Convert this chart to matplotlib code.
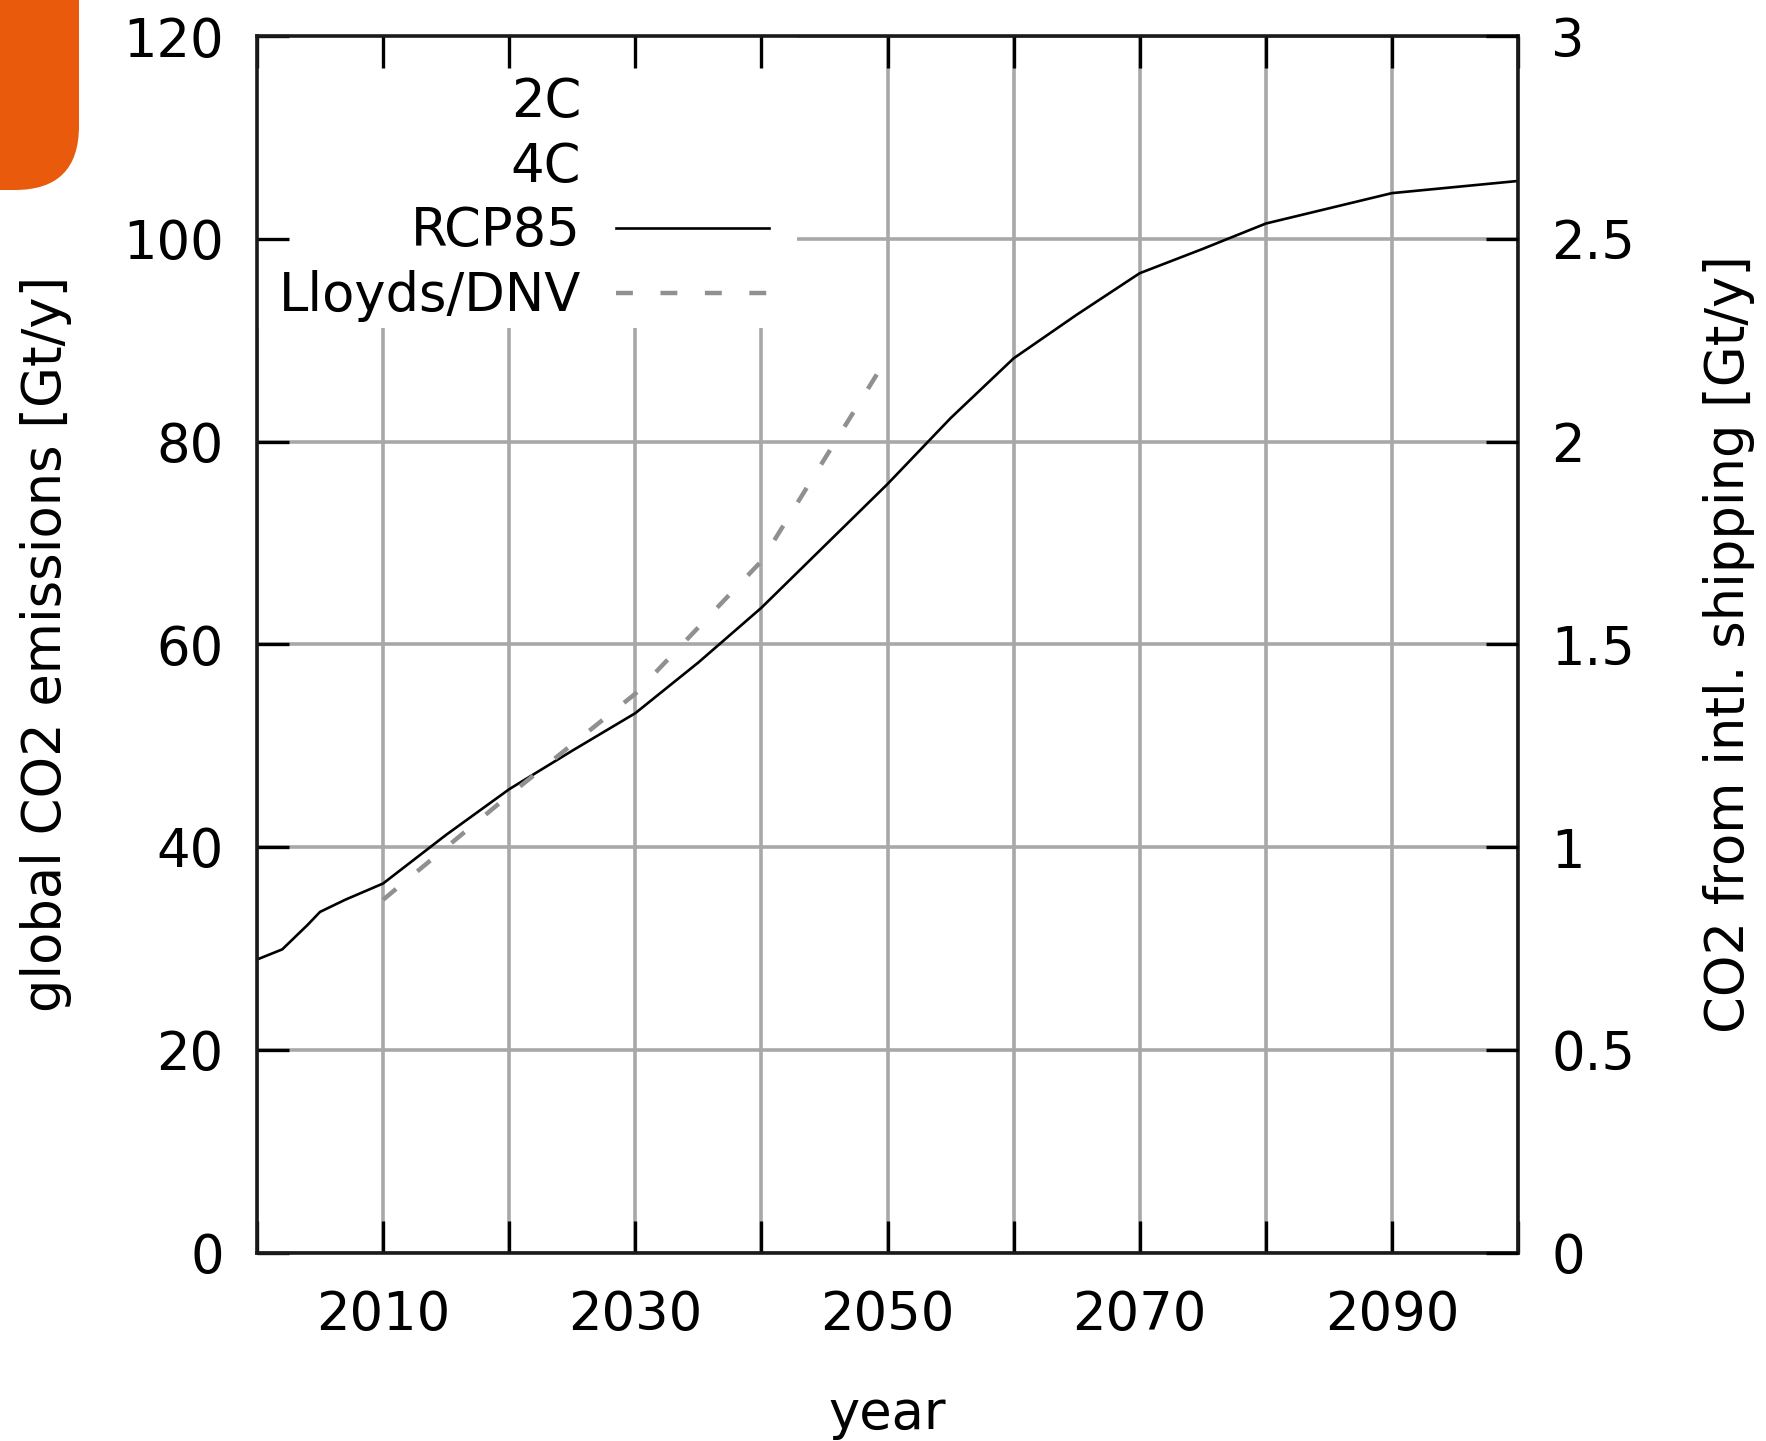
import matplotlib
matplotlib.use("Agg")
import matplotlib.pyplot as plt
from matplotlib.lines import Line2D
from matplotlib.patches import FancyBboxPatch, Rectangle
from matplotlib.ticker import MultipleLocator, FixedLocator, FormatStrFormatter

# RCP8.5 global CO2 emissions [Gt/y] (left axis)
rcp_years = [2000, 2002, 2004, 2005, 2007, 2010, 2015, 2020, 2025, 2030, 2035, 2040,
             2045, 2050, 2055, 2060, 2065, 2070, 2075, 2080, 2085, 2090, 2095, 2100]
rcp_vals = [28.9, 29.9, 32.3, 33.6, 34.8, 36.4, 41.2, 45.7, 49.5, 53.2, 58.2, 63.6,
            69.7, 75.8, 82.3, 88.2, 92.5, 96.6, 99.0, 101.5, 103.0, 104.5, 105.1, 105.7]

# Lloyds/DNV CO2 from intl. shipping [Gt/y] (right axis)
ship_years = [2010, 2020, 2030, 2040, 2050]
ship_vals = [0.870, 1.128, 1.378, 1.705, 2.208]

legend_labels = ["2C", "4C", "RCP85", "Lloyds/DNV"]
xtick_labels = [2010, 2030, 2050, 2070, 2090]

plt.rcParams['font.family'] = ['DejaVu Sans']
FS = 38

fig = plt.figure(figsize=(17.66, 14.41), dpi=100)
rect = [257 / 1766, 1 - 1252.5 / 1441, 1261 / 1766, 1216.5 / 1441]

# orange tab in the top-left corner
tab = FancyBboxPatch((-200, 1441 - 190), 279, 400,
                     boxstyle="round,pad=0,rounding_size=64",
                     transform=None, facecolor='#E95A0C', edgecolor='none')
fig.patches.append(tab)

# background axes carrying the grid and the opaque key box
gax = fig.add_axes(rect, zorder=0)
gax.set_xlim(2000, 2100)
gax.set_ylim(0, 120)
gax.xaxis.set_major_locator(MultipleLocator(10))
gax.yaxis.set_major_locator(MultipleLocator(20))
gax.grid(True, color='#a8a8a8', linewidth=2.6)
gax.tick_params(length=0, labelleft=False, labelbottom=False)
for s in gax.spines.values():
    s.set_visible(False)
gax.add_patch(Rectangle((0, 0.76), 0.428, 0.25, transform=gax.transAxes,
                        facecolor='white', edgecolor='none', zorder=3))

ax = fig.add_axes(rect, zorder=1)
ax.patch.set_visible(False)
ax.plot(rcp_years, rcp_vals, color='black', linewidth=1.9)
ax.set_xlim(2000, 2100)
ax.set_ylim(0, 120)
ax.xaxis.set_major_locator(FixedLocator(xtick_labels))
ax.xaxis.set_minor_locator(MultipleLocator(10))
ax.yaxis.set_major_locator(MultipleLocator(20))
ax.tick_params(which='both', direction='in', length=23, width=2.4, color='black',
               top=True, labelsize=FS)
ax.tick_params(axis='x', pad=26)
ax.tick_params(axis='y', pad=24)
for s in ax.spines.values():
    s.set_linewidth(2.6)
    s.set_color('#1a1a1a')

ax2 = ax.twinx()
ax2.plot(ship_years, ship_vals, color='#909090', linewidth=3.2,
         dashes=(3.8, 6.2), dash_capstyle='butt')
ax2.set_ylim(0, 3)
ax2.yaxis.set_major_locator(MultipleLocator(0.5))
ax2.yaxis.set_major_formatter(FormatStrFormatter('%g'))
ax2.tick_params(direction='in', length=23, width=2.4, color='black', pad=24,
                labelsize=FS)
for s in ax2.spines.values():
    s.set_visible(False)

ax.set_xlabel('year', fontsize=FS, va='center')
ax.xaxis.set_label_coords(0.5, -0.133)
ax.set_ylabel('global CO2 emissions [Gt/y]', fontsize=FS, va='center')
ax.yaxis.set_label_coords(-0.167, 0.5)
ax2.set_ylabel('CO2 from intl. shipping [Gt/y]', fontsize=FS, va='center')
ax2.yaxis.set_label_coords(1.167, 0.5)

handles = [Line2D([], [], color='none'),
           Line2D([], [], color='none'),
           Line2D([], [], color='black', linewidth=1.9),
           Line2D([], [], color='#909090', linewidth=3.2, dashes=(3.8, 6.2),
                  dash_capstyle='butt')]
ax2.legend(handles, legend_labels, loc='upper right',
           bbox_to_anchor=(0.406, 0.967), bbox_transform=ax2.transAxes,
           frameon=False, markerfirst=False, fontsize=FS, borderpad=0,
           borderaxespad=0, handlelength=2.9, handletextpad=0.66,
           labelspacing=0.24)

fig.savefig('out.png', dpi=100)
